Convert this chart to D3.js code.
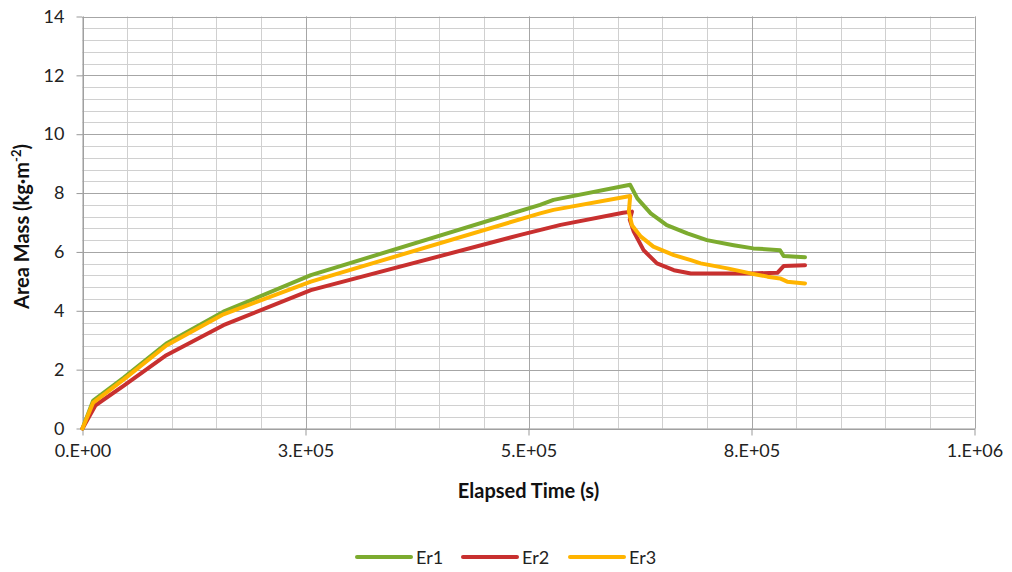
<!DOCTYPE html>
<html>
<head>
<meta charset="utf-8">
<script src="https://cdn.jsdelivr.net/npm/d3@7"></script>
<style>
  html, body { margin: 0; padding: 0; background: #fff; }
  svg { display: block; font-family: Lato, "Open Sans", sans-serif; }
</style>
</head>
<body>
<svg id="chart" width="1012" height="572"></svg>
<script>
// Elapsed time (s) and area mass (kg·m-2) for each run
const er1Time = [0, 12e3, 46e3, 94e3, 158e3, 256e3, 513e3, 528e3, 614e3, 622e3, 637e3, 655e3, 678e3, 700e3, 730e3, 752e3, 782e3, 786e3, 810e3];
const er1Mass = [0, 0.95, 1.72, 2.89, 3.97, 5.21, 7.60, 7.77, 8.28, 7.82, 7.31, 6.91, 6.63, 6.40, 6.23, 6.12, 6.06, 5.86, 5.82];

const er2Time = [0, 14.6e3, 46e3, 94e3, 158e3, 256e3, 491e3, 536e3, 606e3, 616e3, 613.5e3, 618e3, 629e3, 644e3, 663e3, 682e3, 712e3, 749e3, 779e3, 786e3, 810e3];
const er2Mass = [0, 0.79, 1.45, 2.49, 3.51, 4.70, 6.58, 6.92, 7.33, 7.37, 7.10, 6.69, 6.06, 5.61, 5.38, 5.27, 5.27, 5.27, 5.29, 5.52, 5.55];

const er3Time = [0, 12e3, 46e3, 94e3, 158e3, 256e3, 513e3, 528e3, 614e3, 612.5e3, 616e3, 626e3, 640e3, 663e3, 682e3, 693e3, 723e3, 749e3, 768e3, 782e3, 790e3, 810e3];
const er3Mass = [0, 0.88, 1.66, 2.82, 3.88, 4.99, 7.31, 7.43, 7.90, 7.37, 6.91, 6.52, 6.18, 5.89, 5.72, 5.61, 5.44, 5.27, 5.16, 5.10, 4.99, 4.93];

const seriesNames = ["Er1", "Er2", "Er3"];
const seriesColors = ["#7cab2f", "#c8302f", "#ffb400"];

const xTickValues = [0, 2.5e5, 5e5, 7.5e5, 1e6];
const xTickLabels = ["0.E+00", "3.E+05", "5.E+05", "8.E+05", "1.E+06"];
const yTickValues = [0, 2, 4, 6, 8, 10, 12, 14];

const series = [
  { name: seriesNames[0], color: seriesColors[0], pts: er1Time.map((t, i) => [t, er1Mass[i]]) },
  { name: seriesNames[1], color: seriesColors[1], pts: er2Time.map((t, i) => [t, er2Mass[i]]) },
  { name: seriesNames[2], color: seriesColors[2], pts: er3Time.map((t, i) => [t, er3Mass[i]]) }
];

const svg = d3.select("#chart");
const plot = { left: 82.5, right: 974.5, top: 16.5, bottom: 428.5 };

const x = d3.scaleLinear().domain([0, 1e6]).range([plot.left, plot.right]);
const y = d3.scaleLinear().domain([0, 14]).range([plot.bottom, plot.top]);
const px = v => Math.round(v) + 0.5;

// Gridlines: minor every 5e4 s / 0.4 kg·m-2, major at the labelled ticks
const g = svg.append("g");
g.selectAll("line.vminor")
  .data(d3.range(0, 21).map(i => i * 5e4))
  .join("line")
  .attr("x1", d => px(x(d))).attr("x2", d => px(x(d)))
  .attr("y1", plot.top).attr("y2", plot.bottom)
  .attr("stroke", "#d0d0d0").attr("stroke-width", 1);
g.selectAll("line.hminor")
  .data(d3.range(0, 36).map(i => i * 0.4))
  .join("line")
  .attr("x1", plot.left).attr("x2", plot.right)
  .attr("y1", d => px(y(d))).attr("y2", d => px(y(d)))
  .attr("stroke", "#d0d0d0").attr("stroke-width", 1);
g.selectAll("line.vmajor")
  .data(xTickValues)
  .join("line")
  .attr("x1", d => px(x(d))).attr("x2", d => px(x(d)))
  .attr("y1", plot.top).attr("y2", plot.bottom)
  .attr("stroke", "#a6a6a6").attr("stroke-width", 1);
g.selectAll("line.hmajor")
  .data(yTickValues)
  .join("line")
  .attr("x1", plot.left).attr("x2", plot.right)
  .attr("y1", d => px(y(d))).attr("y2", d => px(y(d)))
  .attr("stroke", "#a6a6a6").attr("stroke-width", 1);

// Axes
const xAxis = d3.axisBottom(x).tickValues(xTickValues)
  .tickFormat((d, i) => xTickLabels[i]).tickSizeInner(7).tickSizeOuter(0).tickPadding(9);
const yAxis = d3.axisLeft(y).tickValues(yTickValues)
  .tickSizeInner(6).tickSizeOuter(0).tickPadding(12);

const gx = svg.append("g").attr("transform", `translate(0,${plot.bottom})`).call(xAxis);
const gy = svg.append("g").attr("transform", `translate(${plot.left},0)`).call(yAxis);
[gx, gy].forEach(a => {
  a.select(".domain").attr("stroke", "#999");
  a.selectAll(".tick line").attr("stroke", "#999");
  a.selectAll(".tick text").attr("fill", "#222").style("font-size", "18px").style("font-family", "Lato, sans-serif");
});

// Series lines
const line = d3.line().x(d => x(d[0])).y(d => y(d[1]));
svg.append("g").selectAll("path")
  .data(series)
  .join("path")
  .attr("d", d => line(d.pts))
  .attr("fill", "none")
  .attr("stroke", d => d.color)
  .attr("stroke-width", 4)
  .attr("stroke-linejoin", "round")
  .attr("stroke-linecap", "round");

// Axis titles
svg.append("text")
  .attr("x", (plot.left + plot.right) / 2).attr("y", 498)
  .attr("text-anchor", "middle")
  .style("font-size", "20px").style("font-weight", "bold").attr("fill", "#111")
  .text("Elapsed Time (s)");

const yt = svg.append("text")
  .attr("transform", `translate(29,${(plot.top + plot.bottom) / 2 + 4}) rotate(-90)`)
  .attr("text-anchor", "middle")
  .style("font-size", "20px").style("font-weight", "bold").attr("fill", "#111");
yt.append("tspan").text("Area Mass (kg·m");
yt.append("tspan").attr("dy", -8).style("font-size", "13px").text("-2");
yt.append("tspan").attr("dy", 8).text(")");

// Legend
const legendX = [357, 463, 570];
const lg = svg.append("g").selectAll("g")
  .data(series)
  .join("g")
  .attr("transform", (d, i) => `translate(${legendX[i]},557)`);
lg.append("line")
  .attr("x1", 0).attr("x2", 54).attr("y1", 0).attr("y2", 0)
  .attr("stroke", d => d.color).attr("stroke-width", 4).attr("stroke-linecap", "round");
lg.append("text")
  .attr("x", 59).attr("y", 6.5)
  .style("font-size", "18px").attr("fill", "#222")
  .text(d => d.name);
</script>
</body>
</html>
